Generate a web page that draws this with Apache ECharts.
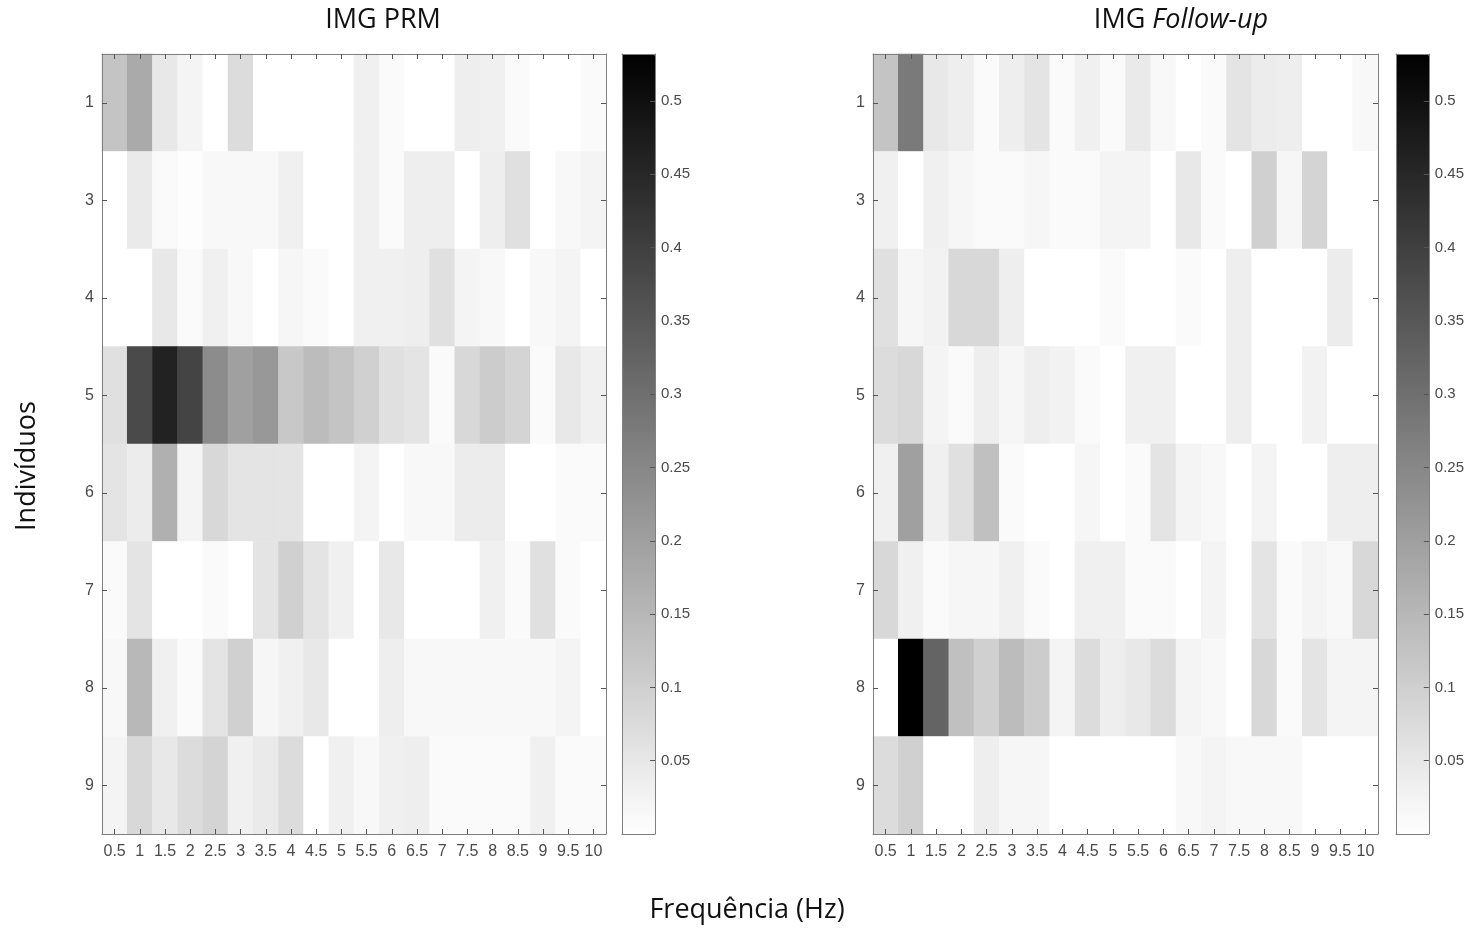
<!DOCTYPE html>
<html>
<head>
<meta charset="utf-8">
<script src="https://cdn.jsdelivr.net/npm/echarts@6/dist/echarts.min.js"></script>
<style>
html,body{margin:0;padding:0;background:#fff;}
#chart{width:1467px;height:928px;}
</style>
</head>
<body>
<div id="chart"></div>
<script>
// Categories
const frequencies = ['0.5','1','1.5','2','2.5','3','3.5','4','4.5','5','5.5','6','6.5','7','7.5','8','8.5','9','9.5','10'];
const individuals = ['1','3','4','5','6','7','8','9'];
const colorbarTicks = [0.05,0.1,0.15,0.2,0.25,0.3,0.35,0.4,0.45,0.5];
const colorMin = 0;
const colorMax = 0.532;

// IMG PRM values: one row per individual, one value per frequency
const prm1 = [0.123,0.177,0.048,0.023,0,0.073,0,0,0,0,0.031,0.010,0,0,0.035,0.031,0.010,0,0,0.010];
const prm3 = [0,0.044,0.010,0.004,0.015,0.015,0.015,0.031,0,0,0.031,0.010,0.035,0.035,0,0.035,0.065,0,0.015,0.023];
const prm4 = [0,0,0.048,0.010,0.031,0.015,0,0.019,0.010,0,0.031,0.031,0.035,0.065,0.023,0.015,0,0.015,0.023,0];
const prm5 = [0.065,0.378,0.461,0.390,0.240,0.198,0.215,0.115,0.140,0.123,0.098,0.065,0.056,0.010,0.081,0.106,0.090,0.010,0.048,0.031];
const prm6 = [0.056,0.040,0.165,0.023,0.081,0.056,0.056,0.056,0,0,0.023,0,0.015,0.015,0.040,0.040,0,0,0.010,0.010];
const prm7 = [0.010,0.056,0,0,0.010,0,0.056,0.098,0.056,0.031,0,0.048,0,0,0,0.031,0.010,0.065,0.010,0];
const prm8 = [0.015,0.148,0.031,0.010,0.056,0.098,0.019,0.031,0.048,0,0,0.035,0.015,0.015,0.015,0.015,0.015,0.015,0.023,0];
const prm9 = [0.023,0.081,0.048,0.073,0.090,0.031,0.044,0.073,0,0.031,0.015,0.031,0.035,0.010,0.010,0.010,0.010,0.031,0.010,0.010];

// IMG Follow-up values
const fu1 = [0.123,0.277,0.048,0.035,0.010,0.035,0.056,0.010,0.031,0.010,0.044,0.015,0,0.010,0.056,0.040,0.035,0,0,0.015];
const fu3 = [0.031,0,0.031,0.019,0.010,0.010,0.019,0.010,0.010,0.023,0.023,0,0.048,0.010,0,0.098,0.019,0.090,0,0];
const fu4 = [0.065,0.019,0.027,0.081,0.081,0.035,0,0,0,0.010,0,0,0.010,0,0.035,0,0,0,0.040,0];
const fu5 = [0.073,0.081,0.023,0.010,0.035,0.019,0.035,0.027,0.010,0,0.031,0.031,0,0,0.035,0,0,0.027,0,0];
const fu6 = [0.031,0.198,0.031,0.065,0.131,0.010,0,0,0.019,0,0.010,0.056,0.023,0.015,0,0.023,0,0,0.035,0.035];
const fu7 = [0.081,0.031,0.010,0.019,0.019,0.031,0.010,0,0.031,0.031,0.010,0.010,0,0.023,0,0.056,0.010,0.023,0.015,0.081];
const fu8 = [0,0.532,0.323,0.131,0.098,0.140,0.106,0.023,0.073,0.035,0.048,0.073,0.023,0.015,0,0.081,0.010,0.056,0.023,0.023];
const fu9 = [0.073,0.098,0,0,0.035,0.019,0.019,0,0,0,0,0,0.015,0.023,0.015,0.015,0.015,0,0,0];

const prmRows = [prm1,prm3,prm4,prm5,prm6,prm7,prm8,prm9];
const fuRows = [fu1,fu3,fu4,fu5,fu6,fu7,fu8,fu9];

function toCells(rows){
  const out = [];
  rows.forEach((row, yi) => row.forEach((v, xi) => out.push([xi, yi, v])));
  return out;
}

const axisColor = '#808080';
const tickColor = '#555';
const labelColor = '#4a4a4a';
const labelFont = 'Liberation Sans, Arial, sans-serif';
const titleFont = '"Open Sans", "Noto Sans", sans-serif';

function catX(gridIndex, pos, showLabel){
  return {
    type:'category', gridIndex, position:pos, data:frequencies,
    axisLine:{show:true, onZero:false, lineStyle:{color:axisColor, width:1}},
    axisTick:{show:true, inside:true, alignWithLabel:true, length:5, lineStyle:{color:tickColor}},
    axisLabel:{show:showLabel, interval:0, color:labelColor, fontSize:16, fontFamily:labelFont, margin:10},
    splitLine:{show:false}, z:10
  };
}
function catY(gridIndex, pos, showLabel){
  return {
    type:'category', gridIndex, position:pos, data:individuals, inverse:true,
    axisLine:{show:true, onZero:false, lineStyle:{color:axisColor, width:1}},
    axisTick:{show:true, inside:true, alignWithLabel:true, length:5, lineStyle:{color:tickColor}},
    axisLabel:{show:showLabel, interval:0, color:labelColor, fontSize:16, fontFamily:labelFont, margin:8},
    splitLine:{show:false}, z:10
  };
}
function boxX(gridIndex, pos){
  return {
    type:'value', gridIndex, position:pos, min:0, max:1,
    axisLine:{show:true, onZero:false, lineStyle:{color:axisColor, width:1}},
    axisTick:{show:false}, axisLabel:{show:false}, splitLine:{show:false}, z:10
  };
}
function cbY(gridIndex, pos, showLabel){
  return {
    type:'value', gridIndex, position:pos, min:colorMin, max:colorMax, interval:0.05,
    axisLine:{show:true, onZero:false, lineStyle:{color:axisColor, width:1}},
    axisTick:{show:showLabel, inside:true, length:5, lineStyle:{color:tickColor}},
    axisLabel:{show:showLabel, color:labelColor, fontSize:15, fontFamily:labelFont, margin:6,
      showMinLabel:false, showMaxLabel:false,
      formatter: v => colorbarTicks.some(t => Math.abs(t - v) < 1e-6) ? String(+v.toFixed(2)) : ''},
    splitLine:{show:false}, z:10
  };
}

const grids = [
  {left:102, top:54, width:504, height:780},
  {left:873, top:54, width:505, height:780},
  {left:622, top:54, width:33, height:780},
  {left:1396, top:54, width:33, height:780}
];

const option = {
  backgroundColor:'#ffffff',
  animation:false,
  grid: grids.map(g => Object.assign({containLabel:false}, g)),
  xAxis: [
    catX(0,'bottom',true), catX(0,'top',false),
    catX(1,'bottom',true), catX(1,'top',false),
    boxX(2,'bottom'), boxX(2,'top'),
    boxX(3,'bottom'), boxX(3,'top')
  ],
  yAxis: [
    catY(0,'left',true), catY(0,'right',false),
    catY(1,'left',true), catY(1,'right',false),
    cbY(2,'left',false), cbY(2,'right',true),
    cbY(3,'left',false), cbY(3,'right',true)
  ],
  visualMap: [
    {type:'continuous', seriesIndex:0, min:colorMin, max:colorMax, calculable:false,
     left:622, top:54, itemWidth:33, itemHeight:780, padding:0, text:null,
     inRange:{color:['#ffffff','#000000']}, hoverLink:false},
    {type:'continuous', seriesIndex:1, min:colorMin, max:colorMax, calculable:false,
     left:1396, top:54, itemWidth:33, itemHeight:780, padding:0, text:null,
     inRange:{color:['#ffffff','#000000']}, hoverLink:false}
  ],
  series: [
    {type:'heatmap', xAxisIndex:0, yAxisIndex:0, data:toCells(prmRows),
     itemStyle:{borderWidth:0}, emphasis:{disabled:true}, progressive:0},
    {type:'heatmap', xAxisIndex:2, yAxisIndex:2, data:toCells(fuRows),
     itemStyle:{borderWidth:0}, emphasis:{disabled:true}, progressive:0}
  ],
  graphic: [
    {type:'text', x:383, y:20, style:{text:'IMG PRM', fill:'#111', font:'27px ' + titleFont, textAlign:'center', textVerticalAlign:'middle'}},
    {type:'text', x:1181, y:20, style:{text:'{a|IMG }{b|Follow-up}', textAlign:'center', textVerticalAlign:'middle',
      rich:{a:{fill:'#111', fontSize:27, fontFamily:titleFont},
            b:{fill:'#111', fontSize:27, fontStyle:'italic', fontFamily:titleFont}}}},
    {type:'text', x:747, y:910, style:{text:'Frequência (Hz)', fill:'#111', font:'27px ' + titleFont, textAlign:'center', textVerticalAlign:'middle'}},
    {type:'text', x:27, y:466, rotation:Math.PI/2, style:{text:'Indivíduos', fill:'#111', font:'27px ' + titleFont, textAlign:'center', textVerticalAlign:'middle'}}
  ]
};

const chart = echarts.init(document.getElementById('chart'), null, {renderer:'canvas'});
chart.setOption(option);
</script>
</body>
</html>
